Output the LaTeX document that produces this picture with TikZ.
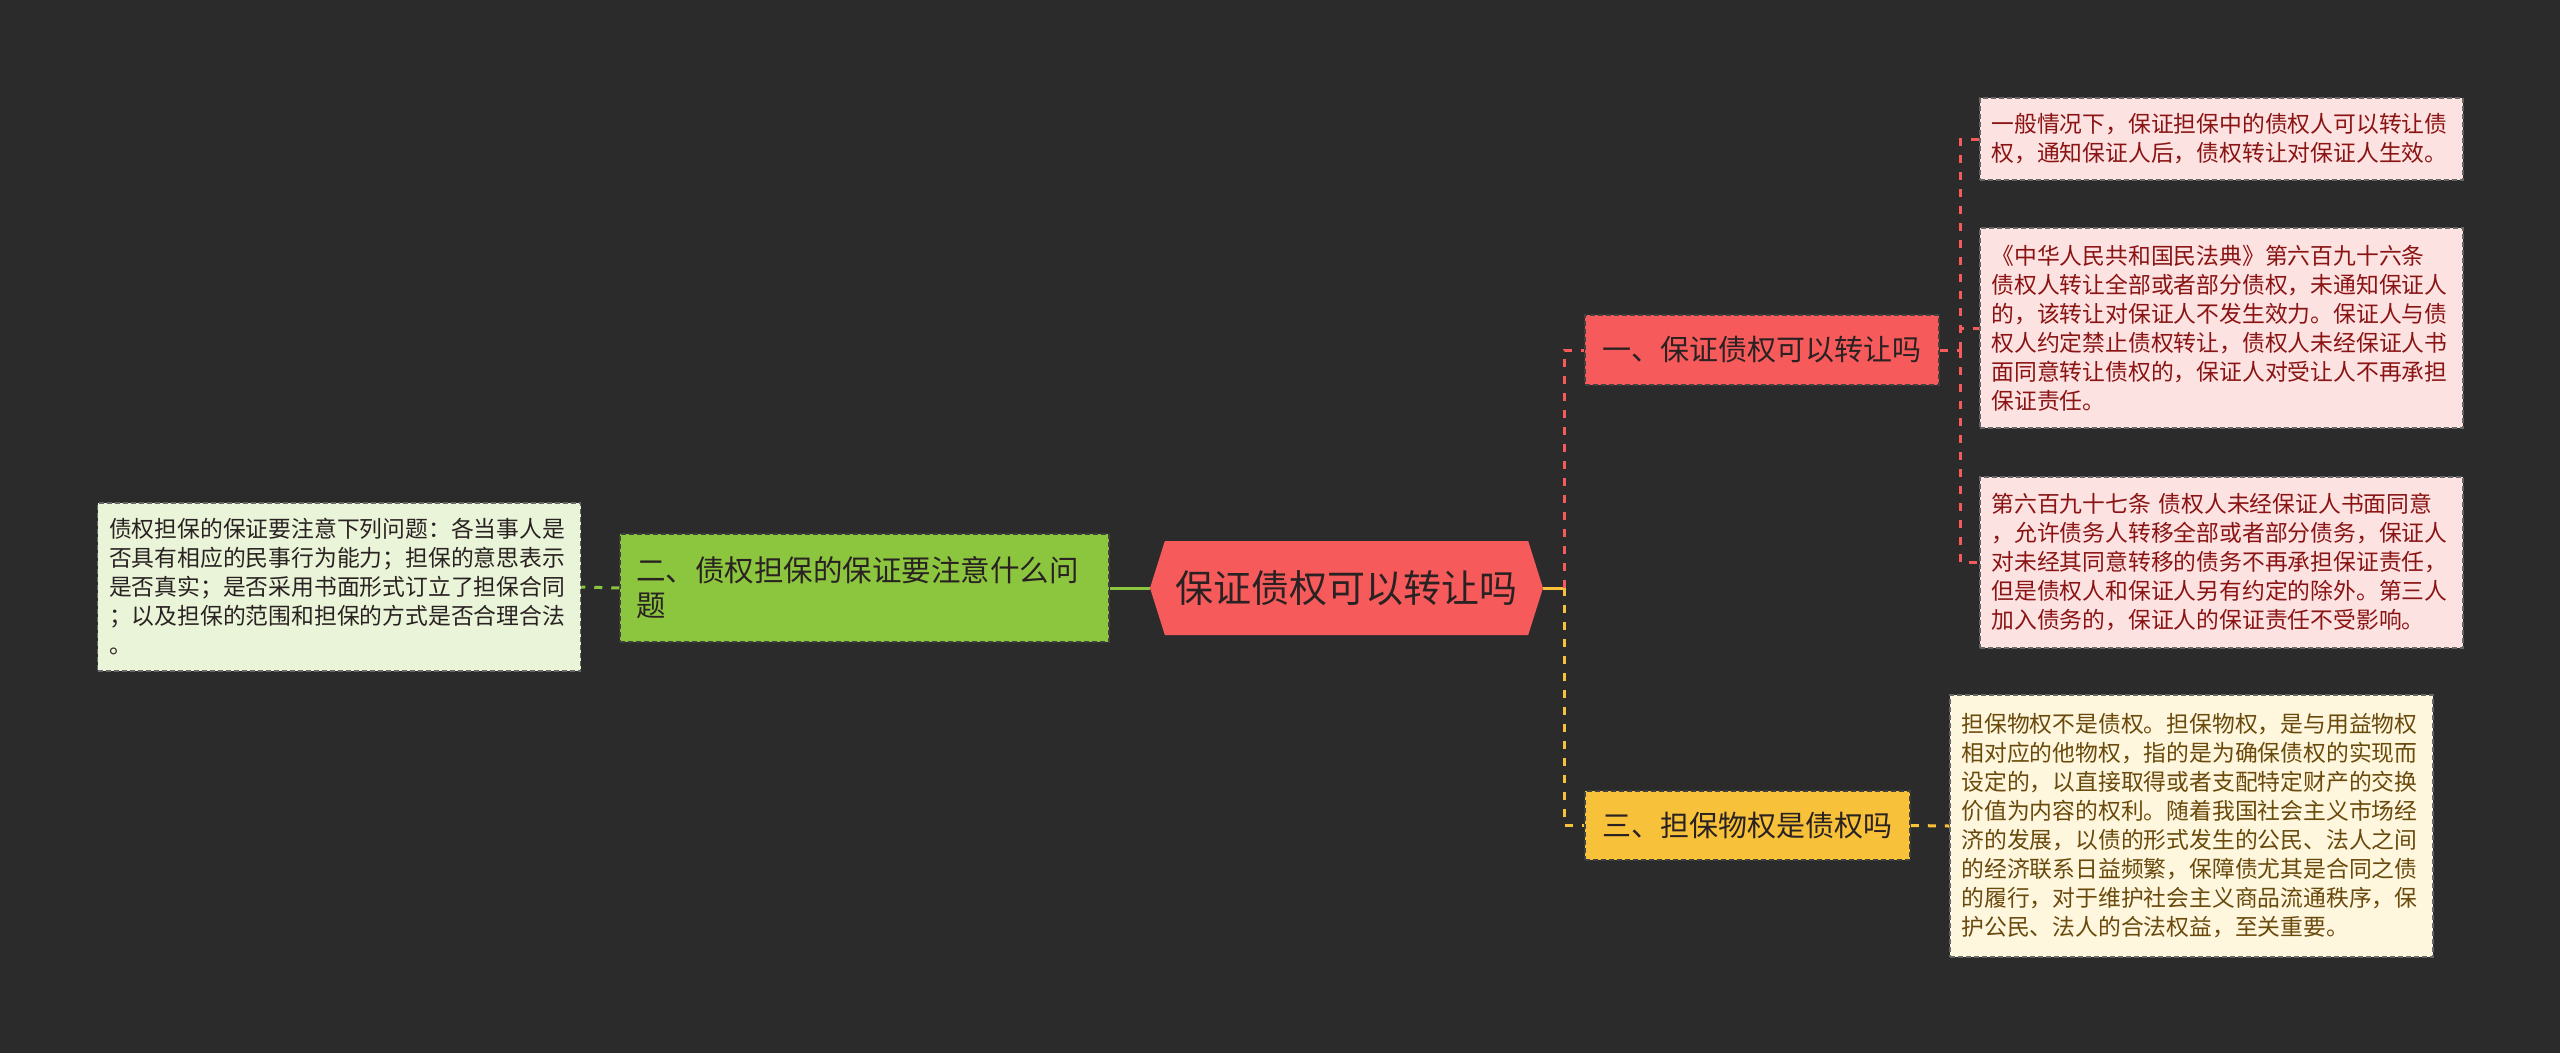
\documentclass[tikz,border=0pt]{standalone}
\usepackage{fontspec}
\setmainfont{Noto Sans CJK SC}
\usepackage{tikz}
\usetikzlibrary{shapes.symbols}

\definecolor{bgdark}{HTML}{2B2B2B}
\definecolor{rootred}{HTML}{F65A5B}
\definecolor{topicgreen}{HTML}{8CC63E}
\definecolor{topicyellow}{HTML}{F8C13A}
\definecolor{leafpink}{HTML}{FDE2E2}
\definecolor{leafcream}{HTML}{FEF7DE}
\definecolor{leafgreen}{HTML}{E9F4D8}
\definecolor{inkred}{HTML}{8A1414}
\definecolor{inkbrown}{HTML}{6A4A0C}
\definecolor{inkdark}{HTML}{2A2222}

\tikzset{
  topicbox/.style={draw=black!75, dashed, dash pattern=on 5pt off 3pt, line width=1.5pt,
    text=inkdark, inner xsep=16pt, inner ysep=0pt},
  leafbox/.style={draw=black!60, dash pattern=on 5pt off 3pt, line width=1.5pt,
    align=left, text width=460pt, inner xsep=11.5pt, inner ysep=0pt,
    font=\fontsize{22.8}{29}\selectfont},
  link/.style={line width=3pt},
  dlink/.style={line width=3pt, dash pattern=on 8pt off 9pt}
}

\begin{document}
\begin{tikzpicture}[x=1pt,y=-1pt]
    \fill[bgdark] (0,0) rectangle (2560,1053);
    \useasboundingbox (0,0) rectangle (2560,1053);

    % centre
    \node[signal, signal to=west and east, signal pointer angle=145, fill=rootred,
      minimum width=393pt, minimum height=94pt, inner sep=0pt, text=inkdark,
      font=\fontsize{38}{44}\selectfont] (root) at (1346.5,588) {保证债权可以转让吗};

    % topics
    \node[topicbox, fill=topicgreen, minimum width=489pt, minimum height=108pt,
      text width=457pt, align=left, font=\fontsize{29.5}{35}\selectfont] (guar) at (864.5,588)
      {二、债权担保的保证要注意什么问\\题};
    \node[topicbox, fill=rootred, minimum width=354pt, minimum height=70pt,
      font=\fontsize{29}{34}\selectfont] (trans) at (1762,350) {一、保证债权可以转让吗};
    \node[topicbox, fill=topicyellow, minimum width=325pt, minimum height=69pt,
      font=\fontsize{29}{34}\selectfont] (secr) at (1747.5,825.5) {三、担保物权是债权吗};

    % leaves
    \node[leafbox, fill=leafgreen, text=inkdark, minimum height=168pt] (guarleaf) at (339,587)
      {债权担保的保证要注意下列问题：各当事人是\\否具有相应的民事行为能力；担保的意思表示\\是否真实；是否采用书面形式订立了担保合同\\；以及担保的范围和担保的方式是否合理合法\\。};
    \node[leafbox, fill=leafpink, text=inkred, minimum height=82pt] (transa) at (2221.5,139)
      {一般情况下，保证担保中的债权人可以转让债\\权，通知保证人后，债权转让对保证人生效。};
    \node[leafbox, fill=leafpink, text=inkred, minimum height=200pt] (transb) at (2221.5,328)
      {《中华人民共和国民法典》第六百九十六条\\债权人转让全部或者部分债权，未通知保证人\\的，该转让对保证人不发生效力。保证人与债\\权人约定禁止债权转让，债权人未经保证人书\\面同意转让债权的，保证人对受让人不再承担\\保证责任。};
    \node[leafbox, fill=leafpink, text=inkred, minimum height=171pt] (transc) at (2221.5,562.5)
      {第六百九十七条 债权人未经保证人书面同意\\，允许债务人转移全部或者部分债务，保证人\\对未经其同意转移的债务不再承担保证责任，\\但是债权人和保证人另有约定的除外。第三人\\加入债务的，保证人的保证责任不受影响。};
    \node[leafbox, fill=leafcream, text=inkbrown, minimum height=262pt] (secrleaf) at (2191.5,826)
      {担保物权不是债权。担保物权，是与用益物权\\相对应的他物权，指的是为确保债权的实现而\\设定的，以直接取得或者支配特定财产的交换\\价值为内容的权利。随着我国社会主义市场经\\济的发展，以债的形式发生的公民、法人之间\\的经济联系日益频繁，保障债尤其是合同之债\\的履行，对于维护社会主义商品流通秩序，保\\护公民、法人的合法权益，至关重要。};

    % links
    \coordinate (hub) at ([xshift=21pt]root.east);
    \coordinate (fork) at ([xshift=21pt]trans.east);
    \draw[link, topicgreen] (root.west) -- (guar.east);
    \draw[dlink, topicgreen] (guar.west) -- (guarleaf.east);
    \draw[link, topicyellow] (root.east) -- (hub);
    \draw[dlink, rootred] (hub) |- (trans.west);
    \draw[dlink, topicyellow] (hub) |- (secr.west);
    \draw[dlink, rootred] (trans.east) -- (fork);
    \draw[dlink, rootred] (fork) |- (transa.west);
    \draw[dlink, rootred] (fork) |- (transb.west);
    \draw[dlink, rootred] (fork) |- (transc.west);
    \draw[dlink, topicyellow] (secr.east) -- (secrleaf.west);
\end{tikzpicture}
\end{document}
